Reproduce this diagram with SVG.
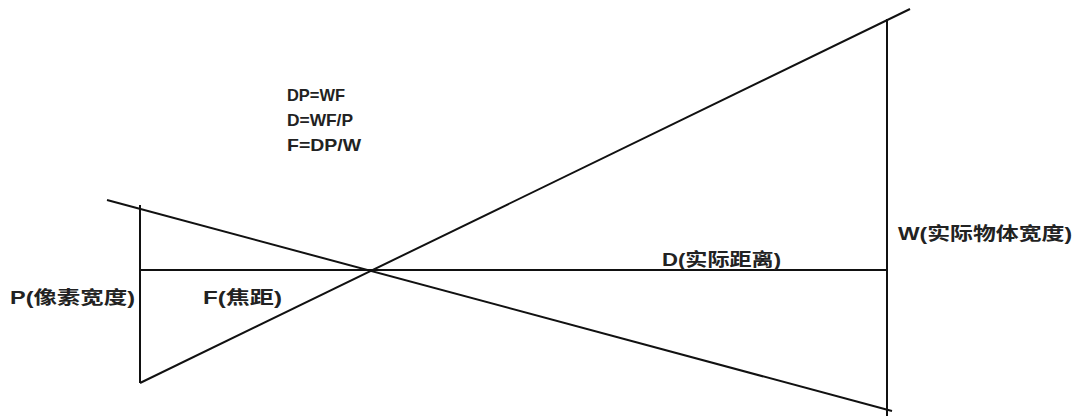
<svg xmlns="http://www.w3.org/2000/svg" width="1078" height="419" viewBox="0 0 1078 419">
<style>
.ln{stroke:#111;stroke-width:2;fill:none}
.t{font-family:"Liberation Sans","Noto Sans CJK SC",sans-serif;font-size:18px;fill:#222;font-weight:bold}
.f{font-family:"Liberation Sans",sans-serif;font-size:17px;fill:#222;font-weight:bold}
</style>
<rect width="1078" height="419" fill="#fff"/>
<g id="connectors">
<line class="ln" x1="107" y1="200" x2="892" y2="411"/>
<line class="ln" x1="140" y1="383" x2="910" y2="9"/>
<line class="ln" x1="140" y1="205" x2="140" y2="383"/>
<line class="ln" x1="887" y1="19" x2="887" y2="416"/>
<line class="ln" x1="140" y1="270" x2="887" y2="270"/>
</g>
<g id="formulas">
<text class="f" x="287" y="101" textLength="58" lengthAdjust="spacingAndGlyphs">DP=WF</text>
<text class="f" x="287" y="126" textLength="66" lengthAdjust="spacingAndGlyphs">D=WF/P</text>
<text class="f" x="287" y="151" textLength="74" lengthAdjust="spacingAndGlyphs">F=DP/W</text>
</g>
<g id="label-p"><text class="t" x="10" y="304" textLength="125" lengthAdjust="spacingAndGlyphs">P(像素宽度)</text></g>
<g id="label-f"><text class="t" x="203" y="304" textLength="79" lengthAdjust="spacingAndGlyphs">F(焦距)</text></g>
<g id="label-d"><text class="t" x="662" y="266" textLength="119" lengthAdjust="spacingAndGlyphs">D(实际距离)</text></g>
<g id="label-w"><text class="t" x="898" y="240" textLength="174" lengthAdjust="spacingAndGlyphs">W(实际物体宽度)</text></g>
</svg>
